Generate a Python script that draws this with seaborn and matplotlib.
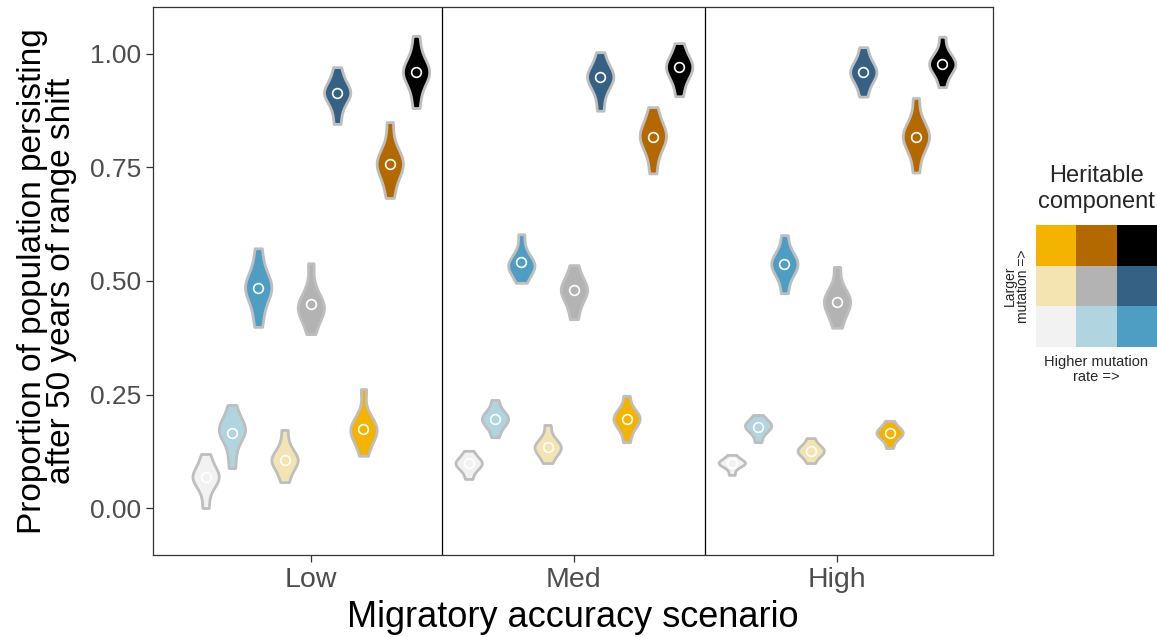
import numpy as np
import pandas as pd
import matplotlib
matplotlib.use("Agg")
import matplotlib.pyplot as plt
import seaborn as sns
from matplotlib.colors import ListedColormap

# ---------------- data ----------------
scenarios = ["Low", "Med", "High"]
components = ["r1s1", "r2s1", "r3s1", "r1s2", "r2s2", "r3s2", "r1s3", "r2s3", "r3s3"]
colors = ["#F2F2F2", "#B0D4E0", "#4E9EC4",
          "#F3E4B2", "#B3B3B3", "#356185",
          "#F3B300", "#B36800", "#000000"]

# approximate sample values (min .. max)
low_vals = [
    [0.000, 0.035, 0.055, 0.062, 0.068, 0.074, 0.082, 0.098, 0.119],
    [0.088, 0.125, 0.155, 0.163, 0.170, 0.177, 0.185, 0.200, 0.227],
    [0.399, 0.435, 0.465, 0.477, 0.485, 0.493, 0.505, 0.530, 0.572],
    [0.057, 0.078, 0.095, 0.101, 0.106, 0.111, 0.120, 0.138, 0.172],
    [0.383, 0.410, 0.428, 0.436, 0.443, 0.450, 0.460, 0.485, 0.539],
    [0.846, 0.878, 0.900, 0.908, 0.914, 0.920, 0.928, 0.945, 0.971],
    [0.115, 0.140, 0.158, 0.165, 0.172, 0.179, 0.188, 0.205, 0.262],
    [0.683, 0.715, 0.740, 0.750, 0.758, 0.766, 0.776, 0.800, 0.850],
    [0.881, 0.918, 0.945, 0.953, 0.960, 0.967, 0.976, 1.000, 1.040],
]
med_vals = [
    [0.064, 0.080, 0.089, 0.094, 0.098, 0.102, 0.107, 0.114, 0.126],
    [0.156, 0.175, 0.186, 0.191, 0.196, 0.201, 0.207, 0.217, 0.238],
    [0.496, 0.512, 0.524, 0.530, 0.536, 0.542, 0.550, 0.568, 0.603],
    [0.099, 0.114, 0.124, 0.129, 0.134, 0.139, 0.145, 0.157, 0.183],
    [0.416, 0.443, 0.462, 0.471, 0.479, 0.487, 0.496, 0.510, 0.535],
    [0.875, 0.910, 0.932, 0.941, 0.948, 0.955, 0.963, 0.977, 1.004],
    [0.145, 0.170, 0.184, 0.190, 0.196, 0.202, 0.208, 0.218, 0.247],
    [0.737, 0.775, 0.798, 0.809, 0.818, 0.827, 0.837, 0.855, 0.883],
    [0.907, 0.935, 0.953, 0.962, 0.970, 0.978, 0.986, 1.000, 1.024],
]
high_vals = [
    [0.073, 0.087, 0.094, 0.097, 0.099, 0.101, 0.104, 0.109, 0.117],
    [0.145, 0.162, 0.171, 0.176, 0.180, 0.184, 0.188, 0.194, 0.205],
    [0.473, 0.505, 0.522, 0.530, 0.537, 0.544, 0.552, 0.567, 0.601],
    [0.099, 0.111, 0.118, 0.122, 0.126, 0.130, 0.134, 0.141, 0.154],
    [0.397, 0.420, 0.437, 0.446, 0.454, 0.462, 0.471, 0.488, 0.531],
    [0.906, 0.930, 0.946, 0.953, 0.960, 0.967, 0.975, 0.990, 1.015],
    [0.132, 0.148, 0.157, 0.161, 0.165, 0.169, 0.173, 0.180, 0.192],
    [0.739, 0.780, 0.801, 0.810, 0.818, 0.826, 0.836, 0.855, 0.903],
    [0.927, 0.952, 0.966, 0.972, 0.978, 0.984, 0.991, 1.005, 1.038],
]
# centre (open circle) values
low_centers = [0.068, 0.165, 0.485, 0.106, 0.450, 0.914, 0.174, 0.758, 0.960]
med_centers = [0.099, 0.196, 0.541, 0.134, 0.480, 0.949, 0.196, 0.818, 0.971]
high_centers = [0.099, 0.178, 0.537, 0.126, 0.454, 0.960, 0.165, 0.818, 0.978]

yticks = [0.0, 0.25, 0.5, 0.75, 1.0]
ytick_labels = ["0.00", "0.25", "0.50", "0.75", "1.00"]

# ---------------- build frames ----------------
rows = []
for scen, vals in zip(scenarios, [low_vals, med_vals, high_vals]):
    for comp, vs in zip(components, vals):
        for v in vs:
            rows.append((scen, comp, v))
df = pd.DataFrame(rows, columns=["scenario", "component", "value"])

crow = []
for scen, cs in zip(scenarios, [low_centers, med_centers, high_centers]):
    for comp, c in zip(components, cs):
        crow.append((scen, comp, c))
cdf = pd.DataFrame(crow, columns=["scenario", "component", "value"])

palette = dict(zip(components, colors))

# ---------------- plot ----------------
sns.set_theme(style="white")
plt.rcParams["font.family"] = ["Liberation Sans", "DejaVu Sans"]

W, H = 1157, 637
fig = plt.figure(figsize=(W / 100, H / 100), dpi=100)
ax = fig.add_axes([153 / W, (H - 555) / H, (993 - 153) / W, (555 - 7) / H])

sns.violinplot(data=df, x="scenario", y="value", hue="component",
               order=scenarios, hue_order=components, palette=palette,
               inner=None, cut=0, density_norm="width", width=0.9,
               bw_adjust=0.8,
               linecolor="#BEBEBE", linewidth=2.0, saturation=1,
               legend=False, ax=ax)

sns.pointplot(data=cdf, x="scenario", y="value", hue="component",
              order=scenarios, hue_order=components, palette=palette,
              dodge=0.8, linestyle="none", markers="o", errorbar=None,
              markersize=7, markerfacecolor="none", markeredgecolor="white",
              markeredgewidth=1.2, legend=False, ax=ax)

for xv in [0.5, 1.5]:
    ax.axvline(xv, color="black", linewidth=0.9, zorder=0)

ax.set_xlim(-0.6, 2.593)
ax.set_ylim(-0.1035, 1.1035)
ax.set_yticks(yticks)
ax.set_yticklabels(ytick_labels)
ax.tick_params(axis="both", which="both", length=5, width=0.9, color="#333333",
               labelcolor="#4D4D4D", labelsize=19, direction="out",
               left=True, bottom=True)
ax.tick_params(axis="x", labelsize=20.5)
for sp in ax.spines.values():
    sp.set_color("#333333")
    sp.set_linewidth(0.9)

ax.set_xlabel("Migratory accuracy scenario", fontsize=26, color="black", labelpad=5)
ax.set_ylabel("Proportion of population persisting\nafter 50 years of range shift",
              fontsize=24, color="black", labelpad=9, linespacing=0.95)

# ---------------- bivariate legend ----------------
leg_grid = np.array([[6, 7, 8],
                     [3, 4, 5],
                     [0, 1, 2]])
lax = fig.add_axes([1036 / W, (H - 347) / H, 121 / W, 122 / H])
sns.heatmap(leg_grid, cmap=ListedColormap(colors), vmin=-0.5, vmax=8.5,
            cbar=False, xticklabels=False, yticklabels=False, ax=lax)
lax.set_xlabel("Higher mutation\nrate =>", fontsize=10.5, labelpad=6, linespacing=1.1)
lax.set_ylabel("Larger\nmutation =>", fontsize=10, labelpad=4, linespacing=1.0)
lax.set_title("Heritable\ncomponent", fontsize=17, pad=12, linespacing=1.25)

fig.savefig("out.png", dpi=100)
